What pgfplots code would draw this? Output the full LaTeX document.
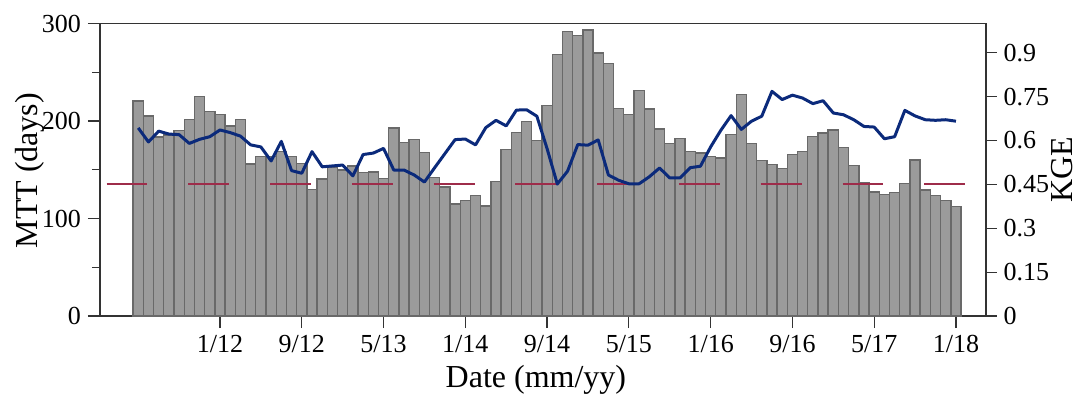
\documentclass[border=0pt]{standalone}
\usepackage{fontspec}
\setmainfont{Liberation Serif}
\usepackage{pgfplots}
\usepackage{pgfplotstable}
\pgfplotsset{compat=1.18}
\definecolor{barfill}{HTML}{9B9B9B}
\definecolor{baredge}{HTML}{696969}
\definecolor{kgeblue}{HTML}{0B2A7B}
\definecolor{refred}{HTML}{9E2C4A}
\definecolor{axgray}{HTML}{333333}

\pgfplotstableread{
i mtt
0 220.5
1 205
2 183.6
3 185.6
4 190
5 201.7
6 225
7 210
8 206.5
9 195
10 201.7
11 156
12 163.4
13 163.4
14 169
15 163.4
16 156.6
17 130
18 140.5
19 153
20 149.7
21 154
22 147
23 147.7
24 141
25 193
26 177.8
27 180.9
28 168
29 141.9
30 132.3
31 114.9
32 118.3
33 123.7
34 113
35 138
36 171
37 188
38 199.7
39 179.8
40 215.7
41 268
42 291.6
43 288
44 293.3
45 269.7
46 258.8
47 213
48 206.8
49 231.4
50 212.3
51 192
52 176.7
53 181.9
54 168.9
55 167.2
56 163.4
57 162
58 186.3
59 227.4
60 177
61 159.3
62 155.2
63 151.5
64 165.8
65 168.5
66 184.3
67 187.7
68 190.8
69 172.6
70 154.5
71 137.1
72 127.2
73 124.8
74 126.8
75 136
76 160
77 129.2
78 123.7
79 118.3
80 112.5
}\mtttable

\pgfplotstableread{
i kge
0 0.643
1 0.595
2 0.632
3 0.622
4 0.620
5 0.590
6 0.604
7 0.613
8 0.636
9 0.627
10 0.615
11 0.585
12 0.578
13 0.530
14 0.597
15 0.497
16 0.488
17 0.562
18 0.510
19 0.513
20 0.516
21 0.479
22 0.552
23 0.557
24 0.573
25 0.499
26 0.499
27 0.482
28 0.458
29 0.507
30 0.555
31 0.603
32 0.605
33 0.585
34 0.644
35 0.669
36 0.650
37 0.704
38 0.705
39 0.683
40 0.572
41 0.451
42 0.495
43 0.586
44 0.584
45 0.602
46 0.482
47 0.464
48 0.452
49 0.452
50 0.476
51 0.506
52 0.472
53 0.472
54 0.507
55 0.512
56 0.578
57 0.635
58 0.685
59 0.638
60 0.666
61 0.683
62 0.768
63 0.740
64 0.755
65 0.745
66 0.726
67 0.736
68 0.694
69 0.688
70 0.671
71 0.648
72 0.646
73 0.606
74 0.613
75 0.703
76 0.684
77 0.671
78 0.669
79 0.671
80 0.666
}\kgetable

\begin{document}
\begin{tikzpicture}
\pgfplotsset{
  common/.style={
    scale only axis, width=443pt, height=146.25pt,
    xmin=-3.74, xmax=82.94,
    axis line style={axgray, line width=0.6pt},
    tick style={axgray, line width=0.6pt},
    tick align=outside,
    major tick length=6pt, minor tick length=4pt,
    tick label style={font=\fontsize{13}{15}\selectfont, text=black},
    label style={font=\fontsize{16}{19}\selectfont},
    /pgf/number format/assume math mode=true,
  }
}
\begin{axis}[common,
  ymin=0, ymax=300,
  ytick={0,100,200,300}, yticklabels={0,100,200,300},
  minor ytick={50,150,250},
  ytick pos=left, xtick pos=bottom,
  xtick={8,16,24,32,40,48,56,64,72,80},
  xticklabels={1/12,9/12,5/13,1/14,9/14,5/15,1/16,9/16,5/17,1/18},
  xlabel={Date (mm/yy)},
  ylabel={MTT (days)},
  xlabel style={at={(axis description cs:0.492,-0.219)}, anchor=center},
  ylabel style={at={(axis description cs:-0.079,0.497)}, anchor=center},
]
\addplot[ybar, bar width=1, bar shift=0pt, fill=barfill, draw=baredge, line width=0.7pt]
  table[x=i, y=mtt] {\mtttable};
\end{axis}
\begin{axis}[common,
  ymin=0, ymax=1,
  axis x line=none,
  axis y line*=right,
  ytick={0,0.15,0.3,0.45,0.6,0.75,0.9},
  yticklabels={0,0.15,0.3,0.45,0.6,0.75,0.9},
  major tick length=5.3pt,
  ylabel={KGE},
  ylabel style={at={(axis description cs:1.086,0.5)}, anchor=center},
  unbounded coords=jump,
]
\addplot[refred, line width=0.9pt] coordinates {
  (-3.1,0.45) (0.9,0.45) (1.5,nan)
  (4.9,0.45) (8.9,0.45) (9.5,nan)
  (12.9,0.45) (16.9,0.45) (17.5,nan)
  (20.9,0.45) (24.9,0.45) (25.5,nan)
  (28.9,0.45) (32.9,0.45) (33.5,nan)
  (36.9,0.45) (40.9,0.45) (41.5,nan)
  (44.9,0.45) (48.9,0.45) (49.5,nan)
  (52.9,0.45) (56.9,0.45) (57.5,nan)
  (60.9,0.45) (64.9,0.45) (65.5,nan)
  (68.9,0.45) (72.9,0.45) (73.5,nan)
  (76.9,0.45) (80.9,0.45)
};
\addplot[kgeblue, line width=1.5pt, line join=round, mark=none]
  table[x=i, y=kge] {\kgetable};
\end{axis}
\pgfresetboundingbox
\path (-50pt,-45.5pt) rectangle (490pt,158pt);
\end{tikzpicture}
\end{document}
